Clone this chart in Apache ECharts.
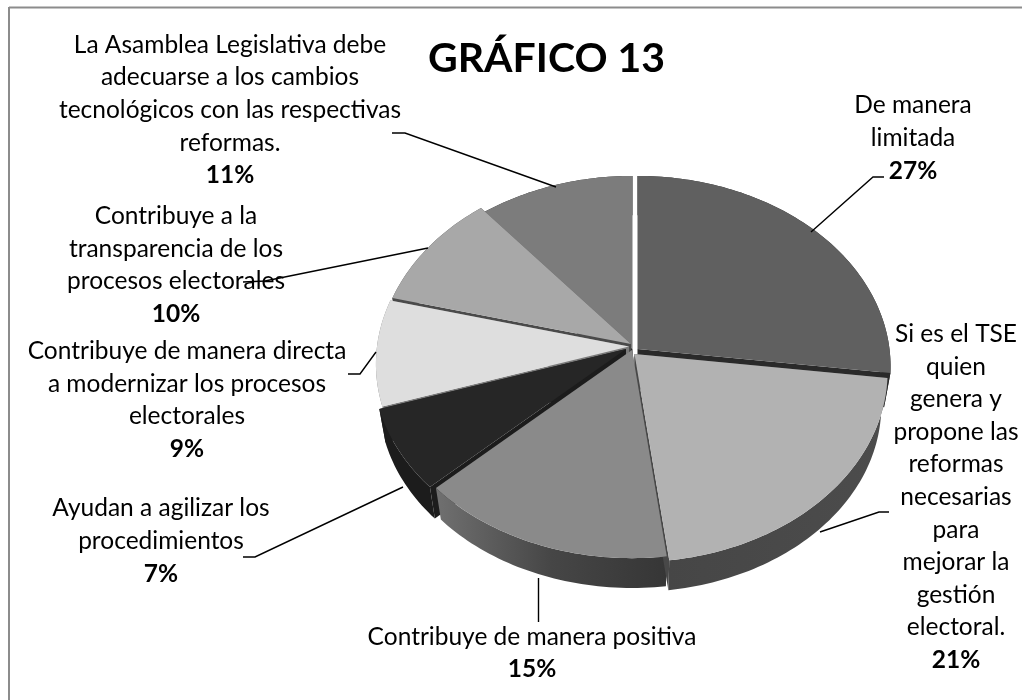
<!DOCTYPE html>
<html><head><meta charset="utf-8">
<style>html,body{margin:0;padding:0;background:#fff}#c{width:1022px;height:700px}</style>
<script src="https://cdn.jsdelivr.net/npm/echarts@6/dist/echarts.min.js"></script>
</head><body><div id="c"></div>
<script>
const categories = [
  ['De manera','limitada'],
  ['Si es el TSE','quien','genera y','propone las','reformas','necesarias','para','mejorar la','gestión','electoral.'],
  ['Contribuye de manera positiva'],
  ['Ayudan a agilizar los','procedimientos'],
  ['Contribuye de manera directa','a modernizar los procesos','electorales'],
  ['Contribuye a la','transparencia de los','procesos electorales'],
  ['La Asamblea Legislativa debe','adecuarse a los cambios','tecnológicos con las respectivas','reformas.']
];
const values = [27, 21, 15, 7, 9, 10, 11];
const titleText = 'GRÁFICO 13';

const topColors = ['#606060','#b2b2b2','#8a8a8a','#262626','#dedede','#a8a8a8','#7c7c7c'];
const wallColors = ['#2a2a2a','#484848','#3c3c3c','#1c1c1c','#7a7a7a','#4a4a4a','#2a2a2a'];
const apexes = [[637.5,349],[634.5,354],[632,350],[626,349],[629,346.5],[631,344],[632.5,349]];
const labelPos = [[913,138],[956,497],[532,653],[161,541],[187,400],[176,265],[230,110]];
const leaders = [
  [[884,177],[873,177],[811,232]],
  [[889,512],[879,512],[820,532]],
  [[538.5,578],[538.5,622]],
  [[243,557],[255,557],[403,487]],
  [[348,374],[360,374],[376,352]],
  [[243,282],[265,281],[428,248]],
  [[392,133],[405,133],[556,187]]
];
const paintOrder = [[6,'wall'],[6,'top'],[5,'wall'],[5,'top'],[4,'wall'],[4,'top'],[0,'wall'],[0,'top'],
  [3,'wall'],[3,'top'],[2,'wall'],[1,'wall'],[1,'top'],[2,'top']];
const RX=252, RY=189, K=0.092, DEPTH=35, BASE=0.975;
const FONT='Lato, sans-serif';

const total = values.reduce((a,b)=>a+b,0);
const starts=[]; let acc=0;
values.forEach(v=>{starts.push(acc/total*Math.PI*2); acc+=v;});
function proj(i,t,r,base){
  const u=Math.sin(t)*r, v=-Math.cos(t)*r, f=1/(1-K*v), s=base?BASE:1;
  return [apexes[i][0]+RX*u*f*s, apexes[i][1]+RY*v*f*s+(base?DEPTH:0)];
}
function arc(i,base){
  const a=starts[i], b=a+values[i]/total*Math.PI*2, n=Math.max(12,Math.round(values[i]*3)), out=[];
  for(let j=0;j<=n;j++) out.push(proj(i,a+(b-a)*j/n,1,base));
  return out;
}
function poly(points,fill){return {type:'polygon',shape:{points},style:{fill,stroke:null}};}
function wallShape(i){
  const t=arc(i,false), b=arc(i,true), A=proj(i,0,0,false), B=proj(i,0,0,true), kids=[];
  let outerFill=wallColors[i];
  if(i===2) outerFill=new echarts.graphic.LinearGradient(0,0,1,0,[{offset:0,color:'#707070'},{offset:.5,color:'#464646'},{offset:1,color:'#363636'}]);
  if(i===1) outerFill=new echarts.graphic.LinearGradient(0,0,1,0,[{offset:0,color:'#464646'},{offset:1,color:'#4c4c4c'}]);
  kids.push(poly([A,t[0],b[0],B],i===2?'#555':wallColors[i]));
  if(i!==2) kids.push(poly([A,t[t.length-1],b[b.length-1],B],wallColors[i]));
  kids.push(poly(t.concat(b.slice().reverse()),outerFill));
  return {type:'group',children:kids};
}
function topShape(i){return poly([proj(i,0,0,false)].concat(arc(i,false)),topColors[i]);}

const rich={n:{fontFamily:FONT,fontSize:24.5,lineHeight:32.6,color:'#000'},
  b:{fontFamily:FONT,fontSize:24.5,fontWeight:'bold',lineHeight:32.6,color:'#000'}};

const chart=echarts.init(document.getElementById('c'),null,{renderer:'canvas'});
chart.setOption({
  animation:false,
  backgroundColor:'#fff',
  title:{text:titleText,left:541.5,top:33,textAlign:'center',textStyle:{fontFamily:FONT,fontSize:41,fontWeight:'bold',color:'#000'}},
  graphic:[
    {type:'line',shape:{x1:9,y1:7.5,x2:1022,y2:7.5},style:{stroke:'#8c8c8c',lineWidth:2},silent:true},
    {type:'line',shape:{x1:9,y1:7,x2:9,y2:700},style:{stroke:'#8c8c8c',lineWidth:2},silent:true}
  ],
  series:[
    {type:'custom',coordinateSystem:'none',silent:true,data:paintOrder.map((d,i)=>i),
     renderItem:(p)=>{const [i,kind]=paintOrder[p.dataIndex];return kind==='wall'?wallShape(i):topShape(i);}},
    {type:'custom',coordinateSystem:'none',silent:true,data:leaders.map((d,i)=>i),
     renderItem:(p)=>({type:'polyline',shape:{points:leaders[p.dataIndex]},style:{fill:null,stroke:'#000',lineWidth:1.4}})},
    {type:'custom',coordinateSystem:'none',silent:true,data:categories.map((d,i)=>i),
     renderItem:(p)=>{const i=p.dataIndex;
       const text=categories[i].map(s=>'{n|'+s+'}').join('\n')+'\n{b|'+values[i]+'%}';
       return {type:'text',style:{text,x:labelPos[i][0],y:labelPos[i][1],align:'center',verticalAlign:'middle',rich}};}}
  ]
});
</script></body></html>
